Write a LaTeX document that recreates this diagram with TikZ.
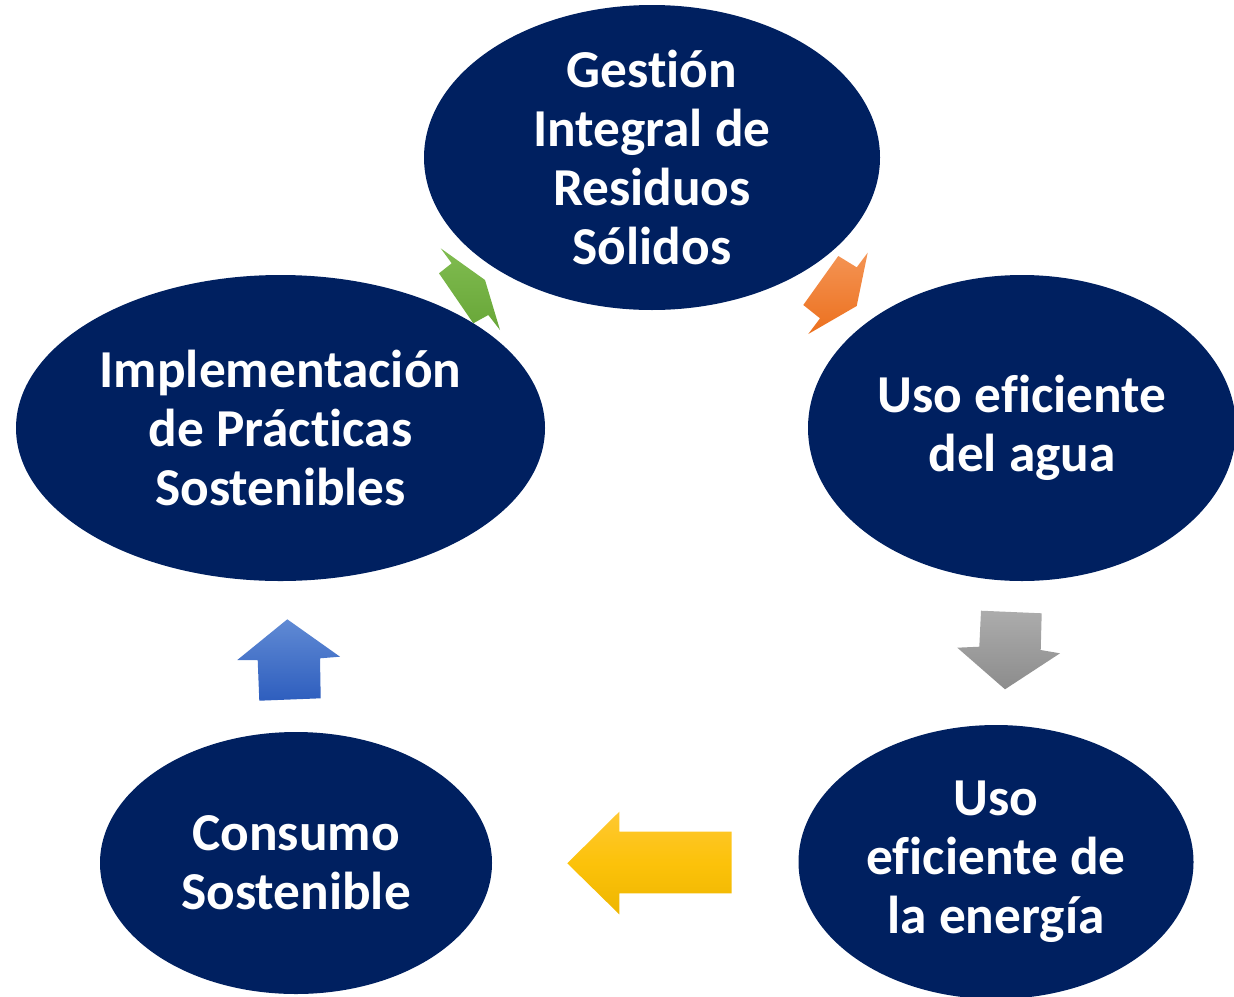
\documentclass[tikz,border=0pt]{standalone}
\usepackage{fontspec}
\setmainfont{Carlito}[Ligatures=NoCommon]
\usetikzlibrary{shapes.geometric}
\definecolor{navy}{HTML}{002060}
\tikzset{
  ell/.style={ellipse, fill=navy, draw=none, inner sep=0pt, text=white,
    font=\fontsize{40}{44.3}\selectfont\bfseries, align=center},
}
\begin{document}
\begin{tikzpicture}[x=0.75pt,y=-0.75pt]
\useasboundingbox (0,0) rectangle (1234,996);
% block arrows
\shade[top color={rgb,255:red,128;green,188;blue,80}, bottom color={rgb,255:red,104;green,166;blue,56}]
  (440.7,248.3) -- (451.7,263.3) -- (439,273.3) -- (473.3,323.3) -- (488.3,315) -- (500,330) -- (485,280) -- cycle;
\shade[top color={rgb,255:red,244;green,148;blue,84}, bottom color={rgb,255:red,236;green,112;blue,30}]
  (838.3,256) -- (856.7,267.3) -- (867.7,252.7) -- (856.7,306) -- (808.3,334) -- (820,318.3) -- (803.3,305) -- cycle;
\shade[top color={rgb,255:red,172;green,172;blue,172}, bottom color={rgb,255:red,140;green,140;blue,140}]
  (981,610.7) -- (1041.7,613.3) -- (1040.7,650) -- (1060,653.3) -- (1005,689.3) -- (957.3,647.7) -- (979.3,646.7) -- cycle;
\shade[top color={rgb,255:red,255;green,200;blue,50}, bottom color={rgb,255:red,238;green,182;blue,0}, middle color={rgb,255:red,252;green,194;blue,10}]
  (567.3,863.3) -- (619.3,811.7) -- (619.3,831.7) -- (731.7,831.7) -- (731.7,893.3) -- (619.3,893.3) -- (619.3,914.3) -- cycle;
\shade[top color={rgb,255:red,96;green,138;blue,212}, bottom color={rgb,255:red,46;green,94;blue,190}]
  (287.3,619.3) -- (340,656.7) -- (320,658.3) -- (320.7,698.3) -- (259.3,700.7) -- (257.7,660) -- (237.3,660) -- cycle;
% ellipses
\node[ell, minimum width=342pt, minimum height=228.75pt] (gest) at (652,157.5)
  {Gestión\\Integral de\\Residuos\\Sólidos};
\node[ell, minimum width=396.75pt, minimum height=229.5pt] (impl) at (280.5,428)
  {Implementación\\de Prácticas\\Sostenibles};
\node[ell, minimum width=321pt, minimum height=229.5pt] (agua) at (1022,428)
  {Uso eficiente\\del agua};
\node[ell, minimum width=296.25pt, minimum height=205.5pt] (ener) at (996,862)
  {Uso\\eficiente de\\la energía};
\node[ell, minimum width=294pt, minimum height=196.5pt] (cons) at (296,863)
  {Consumo\\Sostenible};
\end{tikzpicture}
\end{document}
